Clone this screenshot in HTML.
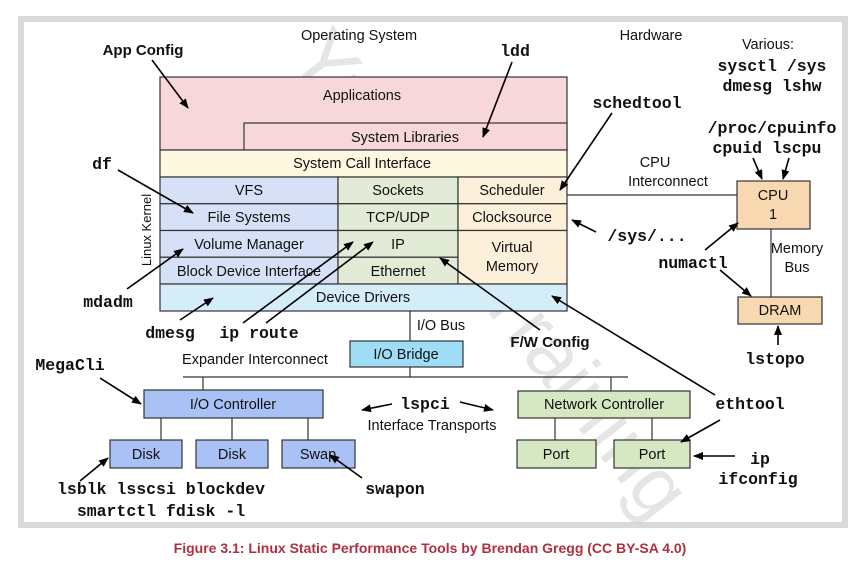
<!DOCTYPE html>
<html><head><meta charset="utf-8"><style>
html,body{margin:0;padding:0;background:#fff;width:858px;height:566px;overflow:hidden}
text{font-family:"Liberation Sans",sans-serif;font-size:14.5px;fill:#111}
.m{font-family:"Liberation Mono",monospace;font-weight:bold;font-size:16.5px}
.b{font-weight:bold}
</style></head><body>
<svg width="858" height="566" viewBox="0 0 858 566" xmlns="http://www.w3.org/2000/svg">
<defs><marker id="a" markerWidth="10" markerHeight="8" refX="9" refY="4" orient="auto" markerUnits="userSpaceOnUse"><path d="M0,0 L10,4 L0,8 z" fill="#000"/></marker></defs>
<rect x="21" y="19" width="824" height="506" fill="#fff" stroke="#d9d9d9" stroke-width="6"/>
<text x="470" y="290" transform="rotate(52 470 290)" text-anchor="middle" style="font-size:80px;fill:#aaa;opacity:0.3">Yunxiao Training</text>
<g stroke="#333" stroke-width="1.2">
<rect x="160" y="77" width="407" height="73" fill="#f8d7da"/>
<rect x="244" y="123" width="323" height="27" fill="#f8d7da"/>
<rect x="160" y="150" width="407" height="27" fill="#fdf8e0"/>
<rect x="160" y="177" width="178" height="26.75" fill="#d6e1f7"/>
<rect x="160" y="203.75" width="178" height="26.75" fill="#d6e1f7"/>
<rect x="160" y="230.5" width="178" height="26.75" fill="#d6e1f7"/>
<rect x="160" y="257.25" width="178" height="26.75" fill="#d6e1f7"/>
<rect x="338" y="177" width="120" height="26.75" fill="#e2ebd6"/>
<rect x="338" y="203.75" width="120" height="26.75" fill="#e2ebd6"/>
<rect x="338" y="230.5" width="120" height="26.75" fill="#e2ebd6"/>
<rect x="338" y="257.25" width="120" height="26.75" fill="#e2ebd6"/>
<rect x="458" y="177" width="109" height="26.75" fill="#fdf0db"/>
<rect x="458" y="203.75" width="109" height="26.75" fill="#fdf0db"/>
<rect x="458" y="230.5" width="109" height="53.5" fill="#fdf0db"/>
<rect x="160" y="284" width="407" height="27" fill="#d4edf9"/>
<line x1="410" y1="311" x2="410" y2="341"/>
<rect x="350" y="341" width="113" height="26" fill="#9fdcf5"/>
<line x1="410" y1="367" x2="410" y2="377"/>
<line x1="183" y1="377" x2="628" y2="377"/>
<line x1="203" y1="377" x2="203" y2="390"/>
<line x1="611" y1="377" x2="611" y2="391"/>
<rect x="144" y="390" width="179" height="28" fill="#a9c1f5"/>
<line x1="161" y1="418" x2="161" y2="440"/><line x1="232" y1="418" x2="232" y2="440"/><line x1="308" y1="418" x2="308" y2="440"/>
<rect x="110" y="440" width="72" height="28" fill="#a9c1f5"/>
<rect x="196" y="440" width="72" height="28" fill="#a9c1f5"/>
<rect x="282" y="440" width="73" height="28" fill="#a9c1f5"/>
<rect x="518" y="391" width="172" height="27" fill="#d5e8c1"/>
<line x1="555" y1="418" x2="555" y2="440"/><line x1="652" y1="418" x2="652" y2="440"/>
<rect x="517" y="440" width="79" height="28" fill="#d5e8c1"/>
<rect x="614" y="440" width="76" height="28" fill="#d5e8c1"/>
<line x1="567" y1="195" x2="737" y2="195"/>
<rect x="737" y="181" width="73" height="48" fill="#f8d8b0"/>
<line x1="771" y1="229" x2="771" y2="297"/>
<rect x="738" y="297" width="84" height="27" fill="#f8d8b0"/>
</g>
<g text-anchor="middle">
<text x="362" y="100">Applications</text>
<text x="405" y="142">System Libraries</text>
<text x="362" y="168">System Call Interface</text>
<text x="249" y="195">VFS</text><text x="249" y="222">File Systems</text><text x="249" y="249">Volume Manager</text><text x="249" y="276">Block Device Interface</text>
<text x="398" y="195">Sockets</text><text x="398" y="222">TCP/UDP</text><text x="398" y="249">IP</text><text x="398" y="276">Ethernet</text>
<text x="512" y="195">Scheduler</text><text x="512" y="222">Clocksource</text><text x="512" y="252">Virtual</text><text x="512" y="271">Memory</text>
<text x="363" y="302">Device Drivers</text>
<text x="406" y="359">I/O Bridge</text>
<text x="233" y="409">I/O Controller</text>
<text x="146" y="459">Disk</text><text x="232" y="459">Disk</text><text x="318" y="459">Swap</text>
<text x="604" y="409">Network Controller</text>
<text x="556" y="459">Port</text><text x="652" y="459">Port</text>
<text x="773" y="200">CPU</text><text x="773" y="219">1</text>
<text x="780" y="315">DRAM</text>
<text x="359" y="40">Operating System</text>
<text x="651" y="40">Hardware</text>
<text x="768" y="49">Various:</text>
<text x="655" y="167">CPU</text><text x="668" y="186">Interconnect</text>
<text x="797" y="253">Memory</text><text x="797" y="272">Bus</text>
<text x="441" y="330">I/O Bus</text>
<text x="255" y="364">Expander Interconnect</text>
<text x="432" y="430">Interface Transports</text>
<text x="143" y="55" class="b" style="font-size:15px">App Config</text>
<text x="550" y="347" class="b" style="font-size:15px">F/W Config</text>
<text class="m" x="515" y="56">ldd</text>
<text class="m" x="772" y="71">sysctl /sys</text>
<text class="m" x="772" y="91">dmesg lshw</text>
<text class="m" x="637" y="108">schedtool</text>
<text class="m" x="772" y="133">/proc/cpuinfo</text>
<text class="m" x="767" y="153">cpuid lscpu</text>
<text class="m" x="102" y="169">df</text>
<text class="m" x="647" y="241">/sys/...</text>
<text class="m" x="693" y="268">numactl</text>
<text class="m" x="108" y="307">mdadm</text>
<text class="m" x="170" y="338">dmesg</text>
<text class="m" x="259" y="338">ip route</text>
<text class="m" x="775" y="364">lstopo</text>
<text class="m" x="70" y="370">MegaCli</text>
<text class="m" x="425" y="409">lspci</text>
<text class="m" x="750" y="409">ethtool</text>
<text class="m" x="760" y="464">ip</text>
<text class="m" x="758" y="484">ifconfig</text>
<text class="m" x="395" y="494">swapon</text>
<text class="m" x="161" y="494">lsblk lsscsi blockdev</text>
<text class="m" x="161" y="516">smartctl fdisk -l</text>
<text x="0" y="5" transform="translate(146 230) rotate(-90)" style="font-size:13px">Linux Kernel</text>
<text x="430" y="553" class="b" style="font-size:14px;fill:#b03040">Figure 3.1: Linux Static Performance Tools by Brendan Gregg (CC BY-SA 4.0)</text>
</g>
<g stroke="#000" stroke-width="1.6" fill="none" marker-end="url(#a)">
<line x1="152" y1="60" x2="188" y2="108"/>
<line x1="512" y1="62" x2="483" y2="137"/>
<line x1="612" y1="113" x2="560" y2="190"/>
<line x1="118" y1="170" x2="193" y2="213"/>
<line x1="127" y1="289" x2="183" y2="249"/>
<line x1="180" y1="320" x2="213" y2="298"/>
<line x1="243" y1="323" x2="353" y2="242"/>
<line x1="266" y1="323" x2="373" y2="242"/>
<line x1="540" y1="330" x2="440" y2="258"/>
<line x1="715" y1="395" x2="552" y2="296"/>
<line x1="596" y1="232" x2="572" y2="220"/>
<line x1="705" y1="250" x2="738" y2="223"/>
<line x1="720" y1="270" x2="751" y2="296"/>
<line x1="753" y1="158" x2="762" y2="179"/>
<line x1="789" y1="158" x2="783" y2="179"/>
<line x1="778" y1="345" x2="778" y2="326"/>
<line x1="100" y1="378" x2="141" y2="404"/>
<line x1="392" y1="404" x2="362" y2="410"/>
<line x1="460" y1="402" x2="493" y2="410"/>
<line x1="720" y1="420" x2="681" y2="442"/>
<line x1="735" y1="456" x2="694" y2="456"/>
<line x1="362" y1="478" x2="330" y2="455"/>
<line x1="80" y1="481" x2="108" y2="458"/>
</g>
</svg>
</body></html>
